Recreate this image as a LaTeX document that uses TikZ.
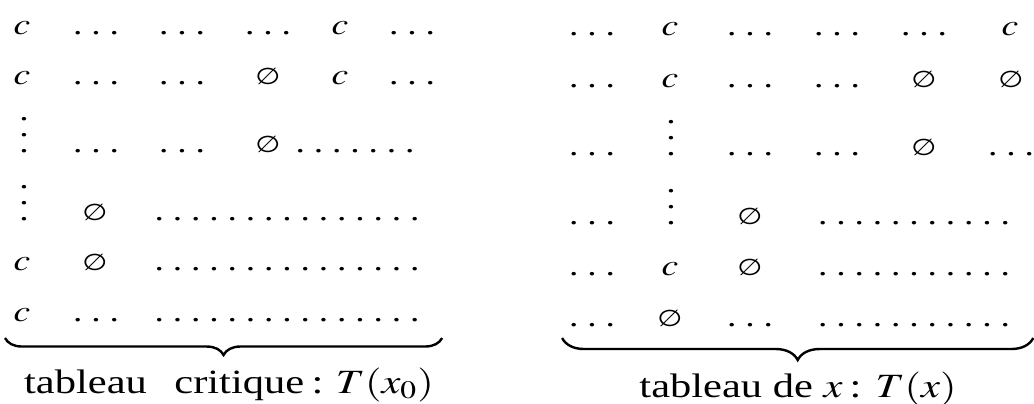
\documentclass[tikz,border=0pt]{standalone}
\usepackage{mathptmx}
\usepackage{fontspec}
\setmainfont{Liberation Serif}
\newfontfamily\symb{DejaVu Sans}
\usetikzlibrary{decorations.pathreplacing}

% rows of dots, columns of dots, empty cell
\newcommand\pts[1]{\foreach \k in {1,...,#1}{\makebox[7.3pt]{.}}}
\newcommand\vpts{\vbox{\baselineskip=8pt\lineskiplimit=-10pt\hbox{.}\hbox{.}\hbox{.}}}
\newcommand\vide{{\symb\fontsize{11.5}{13}\selectfont ∅}}

\tikzset{
	cell/.style	= {anchor=base, inner sep=0pt, font=\fontsize{15}{17}\selectfont},
	lab/.style	= {anchor=base, inner sep=0pt, font=\fontsize{17}{20}\selectfont},
	ubrace/.style	= {decorate, decoration={brace, mirror, amplitude=#1}, line width=1.2pt}
}

\begin{document}
\begin{tikzpicture}[x=0.4pt, y=-0.5pt, xscale=1.25, every node/.style={transform shape}]
	\useasboundingbox (0,0) rectangle (1034,403);
	% tableau critique
	\node (A11) at ( 22,  34)	[cell]	{$c$};
	\node (A12) at ( 96,  34)	[cell]	{\pts{3}};
	\node (A13) at (182,  34)	[cell]	{\pts{3}};
	\node (A14) at (268,  34)	[cell]	{\pts{3}};
	\node (A15) at (340,  34)	[cell]	{$c$};
	\node (A16) at (412,  34)	[cell]	{\pts{3}};
	\node (A21) at ( 22,  84)	[cell]	{$c$};
	\node (A22) at ( 96,  84)	[cell]	{\pts{3}};
	\node (A23) at (182,  84)	[cell]	{\pts{3}};
	\node (A24) at (268,  84)	[cell]	{\vide};
	\node (A25) at (340,  84)	[cell]	{$c$};
	\node (A26) at (412,  84)	[cell]	{\pts{3}};
	\node (A31) at ( 24, 152)	[cell]	{\vpts};
	\node (A32) at ( 96, 152)	[cell]	{\pts{3}};
	\node (A33) at (182, 152)	[cell]	{\pts{3}};
	\node (A34) at (268, 152)	[cell]	{\vide};
	\node (A35) at (355, 152)	[cell]	{\pts{7}};
	\node (A41) at ( 24, 220)	[cell]	{\vpts};
	\node (A42) at ( 95, 220)	[cell]	{\vide};
	\node (A43) at (287, 220)	[cell]	{\pts{15}};
	\node (A51) at ( 22, 270)	[cell]	{$c$};
	\node (A52) at ( 95, 270)	[cell]	{\vide};
	\node (A53) at (287, 270)	[cell]	{\pts{15}};
	\node (A61) at ( 22, 321)	[cell]	{$c$};
	\node (A62) at ( 96, 321)	[cell]	{\pts{3}};
	\node (A63) at (287, 321)	[cell]	{\pts{15}};
	\coordinate (Al) at (  5, 338);
	\coordinate (Ar) at (442, 338);
	\draw[ubrace=8.5pt] (Al) -- (Ar);
	\node (Alab) at (229, 393)	[lab]	{tableau\hspace{11pt}critique\hspace{3pt}:\hspace{5pt}$T(x_0)$};
	% tableau de x
	\node (B11) at (592,  35)	[cell]	{\pts{3}};
	\node (B12) at (670,  35)	[cell]	{$c$};
	\node (B13) at (750,  35)	[cell]	{\pts{3}};
	\node (B14) at (837,  35)	[cell]	{\pts{3}};
	\node (B15) at (924,  35)	[cell]	{\pts{3}};
	\node (B16) at (1010, 35)	[cell]	{$c$};
	\node (B21) at (592,  87)	[cell]	{\pts{3}};
	\node (B22) at (670,  87)	[cell]	{$c$};
	\node (B23) at (750,  87)	[cell]	{\pts{3}};
	\node (B24) at (837,  87)	[cell]	{\pts{3}};
	\node (B25) at (924,  87)	[cell]	{\vide};
	\node (B26) at (1011, 87)	[cell]	{\vide};
	\node (B31) at (592, 155)	[cell]	{\pts{3}};
	\node (B32) at (671, 155)	[cell]	{\vpts};
	\node (B33) at (750, 155)	[cell]	{\pts{3}};
	\node (B34) at (837, 155)	[cell]	{\pts{3}};
	\node (B35) at (924, 155)	[cell]	{\vide};
	\node (B36) at (1011,155)	[cell]	{\pts{3}};
	\node (B41) at (592, 224)	[cell]	{\pts{3}};
	\node (B42) at (671, 224)	[cell]	{\vpts};
	\node (B43) at (750, 224)	[cell]	{\vide};
	\node (B44) at (914, 224)	[cell]	{\pts{11}};
	\node (B51) at (592, 275)	[cell]	{\pts{3}};
	\node (B52) at (670, 275)	[cell]	{$c$};
	\node (B53) at (750, 275)	[cell]	{\vide};
	\node (B54) at (914, 275)	[cell]	{\pts{11}};
	\node (B61) at (592, 326)	[cell]	{\pts{3}};
	\node (B62) at (670, 326)	[cell]	{\vide};
	\node (B63) at (750, 326)	[cell]	{\pts{3}};
	\node (B64) at (914, 326)	[cell]	{\pts{11}};
	\coordinate (Bl) at (562, 338);
	\coordinate (Br) at (1033,338);
	\draw[ubrace=11pt] (Bl) -- (Br);
	\node (Blab) at (798, 397)	[lab]	{tableau de $x$\,: $T(x)$};
\end{tikzpicture}
\end{document}
